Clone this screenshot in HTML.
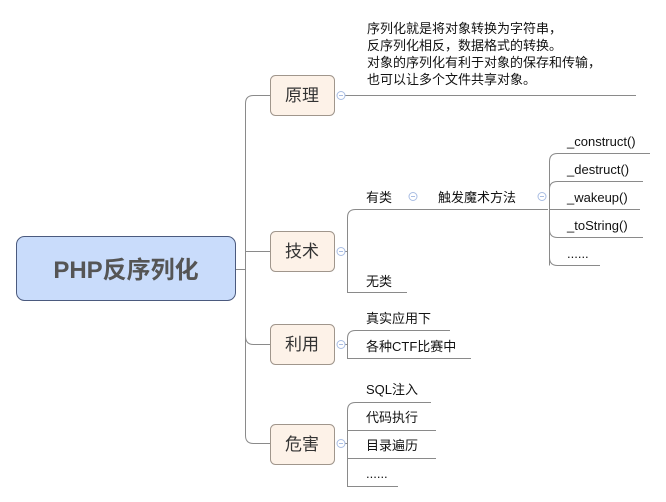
<!DOCTYPE html>
<html><head><meta charset="utf-8"><style>
html,body{margin:0;padding:0;background:#fff;}
svg{display:block;}
text{font-family:"Liberation Sans","Noto Sans CJK SC",sans-serif;font-size:13px;fill:#111;}
</style></head><body>
<svg width="666" height="502" viewBox="0 0 666 502" xmlns="http://www.w3.org/2000/svg">
<g fill="none" stroke="#8a8a8a" stroke-width="1">
<path d="M236 269.5H245.5"/>
<path d="M270 95.5H253.5Q245.5 95.5 245.5 103.5V435.5Q245.5 443.5 253.5 443.5H270"/>
<path d="M245.5 251.5H270"/>
<path d="M245.5 336Q245.5 344.5 253.5 344.5H270"/>
<path d="M345 95.5H636"/>
<path d="M345 251.5H347.5"/>
<path d="M548 209.5H355.5Q347.5 209.5 347.5 217.5V292.5H407"/>
<path d="M549.5 265.5V161.5Q549.5 153.5 557.5 153.5H650"/>
<path d="M549.5 189Q549.5 181.5 557.5 181.5H643"/>
<path d="M549.5 209.5H640"/>
<path d="M549.5 229.5Q549.5 237.5 557.5 237.5H643"/>
<path d="M549.5 257.5Q549.5 265.5 557.5 265.5H600"/>
<path d="M345 344.5H347.5"/>
<path d="M450 330.5H355.5Q347.5 330.5 347.5 338.5V358.5H471"/>
<path d="M345 443.5H347.5"/>
<path d="M431 402.5H355.5Q347.5 402.5 347.5 410.5V486.5H398"/>
<path d="M347.5 430.5H436"/>
<path d="M347.5 458.5H436"/>
</g>
<rect x="16.5" y="236.5" width="219" height="64" rx="8" fill="#c9dcfb" stroke="#4b5a7e"/>
<text x="126" y="278" text-anchor="middle" style="font-size:24px;font-weight:bold;fill:#555">PHP反序列化</text>
<g fill="#fdf2e8" stroke="#a0968c">
<rect x="270.5" y="75.5" width="64" height="40" rx="5"/>
<rect x="270.5" y="231.5" width="64" height="40" rx="5"/>
<rect x="270.5" y="324.5" width="64" height="40" rx="5"/>
<rect x="270.5" y="424.5" width="64" height="40" rx="5"/>
</g>
<g text-anchor="middle">
<text x="302" y="101" style="font-size:17px;fill:#333">原理</text>
<text x="302" y="257" style="font-size:17px;fill:#333">技术</text>
<text x="302" y="350" style="font-size:17px;fill:#333">利用</text>
<text x="302" y="450" style="font-size:17px;fill:#333">危害</text>
</g>
<g fill="#fff" stroke="#a9bde3">
<circle cx="341" cy="95.5" r="4"/><circle cx="341" cy="251.5" r="4"/>
<circle cx="341" cy="344.5" r="4"/><circle cx="341" cy="443.5" r="4"/>
<circle cx="413" cy="196.5" r="4"/><circle cx="542" cy="196.5" r="4"/>
</g>
<g stroke="#a9bde3">
<path d="M339 95.5h4M339 251.5h4M339 344.5h4M339 443.5h4M411 196.5h4M540 196.5h4"/>
</g>
<text x="367" y="33">序列化就是将对象转换为字符串，</text>
<text x="367" y="50">反序列化相反，数据格式的转换。</text>
<text x="367" y="67">对象的序列化有利于对象的保存和传输，</text>
<text x="367" y="84">也可以让多个文件共享对象。</text>
<text x="366" y="202">有类</text>
<text x="438" y="202">触发魔术方法</text>
<text x="366" y="286">无类</text>
<text x="567" y="146">_construct()</text>
<text x="567" y="174">_destruct()</text>
<text x="567" y="202">_wakeup()</text>
<text x="567" y="230">_toString()</text>
<text x="567" y="258">......</text>
<text x="366" y="323">真实应用下</text>
<text x="366" y="351">各种CTF比赛中</text>
<text x="366" y="394">SQL注入</text>
<text x="366" y="422">代码执行</text>
<text x="366" y="450">目录遍历</text>
<text x="366" y="478">......</text>
</svg>
</body></html>
